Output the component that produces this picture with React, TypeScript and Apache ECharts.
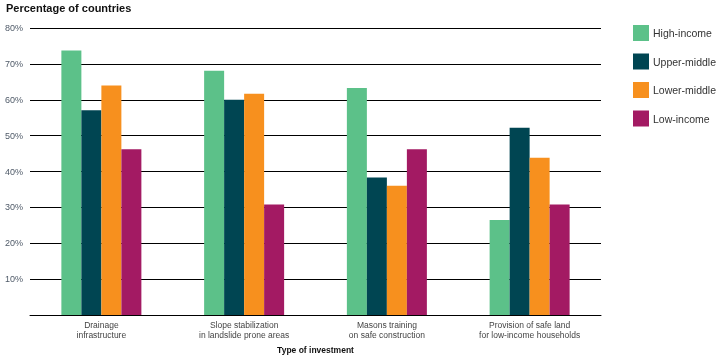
import React, { useEffect, useRef } from "react";
import * as echarts from "echarts";

const categories = [
  "Drainage\ninfrastructure",
  "Slope stabilization\nin landslide prone areas",
  "Masons training\non safe construction",
  "Provision of safe land\nfor low-income households",
];
const seriesNames = ["High-income", "Upper-middle", "Lower-middle", "Low-income"];
const highIncome = [73.7, 68.1, 63.3, 26.5];
const upperMiddle = [57.1, 60.0, 38.3, 52.2];
const lowerMiddle = [64.0, 61.7, 36.0, 43.8];
const lowIncome = [46.2, 30.8, 46.2, 30.8];
const colors = ["#5CC189", "#004552", "#F7901E", "#A31A63"];

export default function App() {
  const ref = useRef<HTMLDivElement>(null);
  useEffect(() => {
    if (!ref.current) return;
    const chart = echarts.init(ref.current, undefined, { renderer: "svg" });
    const data = [highIncome, upperMiddle, lowerMiddle, lowIncome];
    chart.setOption({
      animation: false,
      textStyle: { fontFamily: "Liberation Sans, Arial, sans-serif" },
      grid: { left: 30, right: 121, top: 28, bottom: 49, containLabel: false },
      title: {
        text: "Percentage of countries",
        left: 6,
        top: 2,
        padding: 0,
        textStyle: { fontSize: 11, fontWeight: "bold", color: "#111", fontFamily: "Liberation Sans, Arial, sans-serif" },
      },
      legend: {
        orient: "vertical",
        left: 633,
        top: 25,
        padding: 0,
        itemWidth: 16,
        itemHeight: 16,
        itemGap: 12.5,
        icon: "rect",
        data: seriesNames,
        textStyle: { fontSize: 10.5, color: "#333", padding: [0, 0, 0, -1] },
      },
      xAxis: {
        type: "category",
        data: categories,
        name: "Type of investment",
        nameLocation: "middle",
        nameGap: 30,
        nameTextStyle: { fontSize: 8.5, fontWeight: "bold", color: "#111" },
        axisLine: { show: true, lineStyle: { color: "#000", width: 1 } },
        axisTick: { show: false },
        axisLabel: { fontSize: 8.5, color: "#444", margin: 5, lineHeight: 10, interval: 0 },
      },
      yAxis: {
        type: "value",
        min: 0,
        max: 80,
        interval: 10,
        axisLine: { show: false },
        axisTick: { show: false },
        axisLabel: {
          fontSize: 9,
          color: "#4f5a68",
          margin: 7,
          formatter: (v: number) => (v === 0 ? "" : v + "%"),
        },
        splitLine: { show: true, lineStyle: { color: "#000", width: 1 } },
      },
      series: seriesNames.map((name, i) => ({
        name,
        type: "bar",
        data: data[i],
        barWidth: 20,
        barGap: "0%",
        itemStyle: { color: colors[i] },
      })),
    });
    return () => chart.dispose();
  }, []);
  return <div ref={ref} style={{ position: "fixed", left: 0, top: 0, width: 722, height: 364 }} />;
}
